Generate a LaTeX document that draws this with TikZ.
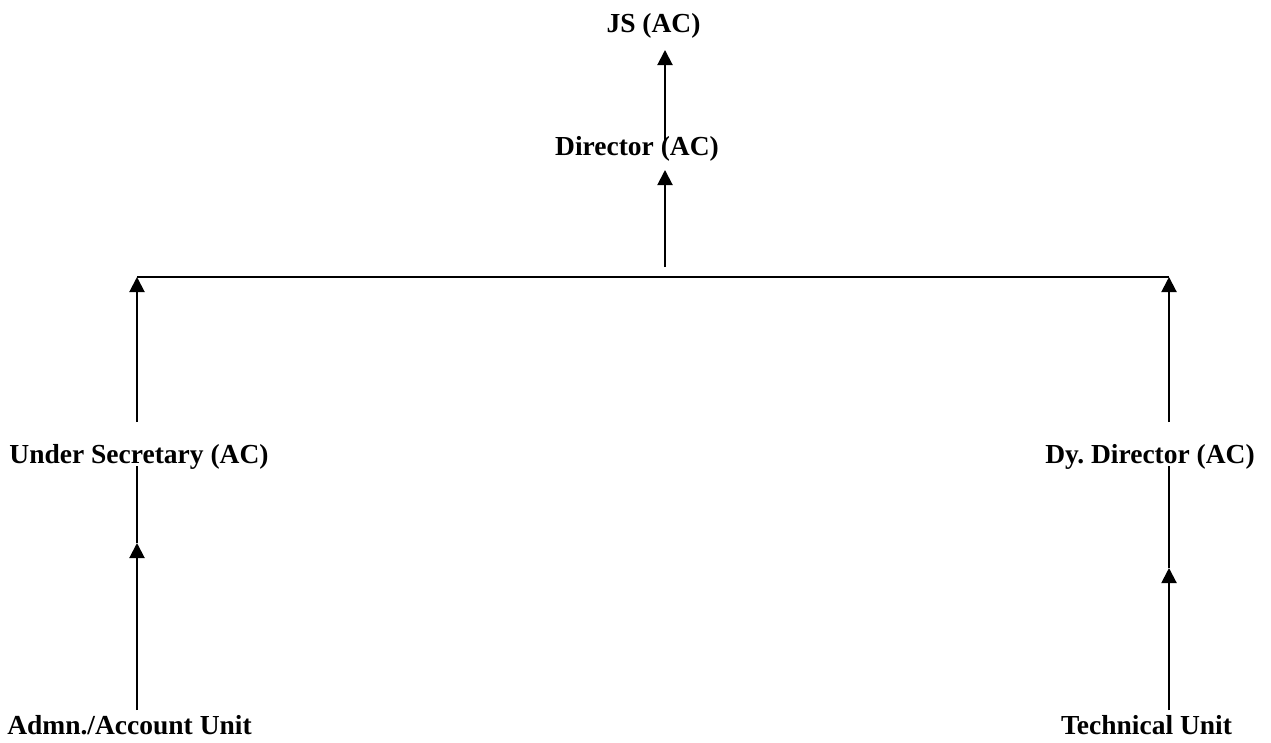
\documentclass[tikz,border=0pt]{standalone}
\usepackage{fontspec}
\setmainfont{Liberation Serif}
\usetikzlibrary{arrows.meta}
\frenchspacing
\begin{document}
\begin{tikzpicture}[x=1pt,y=-1pt,
  lbl/.style={inner sep=0pt,anchor=base,font=\fontsize{27.5}{33}\selectfont\bfseries},
  conn/.style={line width=2pt},
  arr/.style={conn,-{Triangle[width=15pt,length=15pt]}}]
\useasboundingbox[fill=white] (0,0) rectangle (1271,742);
% nodes
\node[lbl] (js)   at (653.5,32)  {JS (AC)};
\node[lbl] (dir)  at (637,155)   {Director (AC)};
\node[lbl] (us)   at (139,463)   {Under Secretary (AC)};
\node[lbl] (dy)   at (1150,463)  {Dy. Director (AC)};
\node[lbl] (adm)  at (129.5,734) {Admn./Account Unit};
\node[lbl] (tech) at (1146.5,734){Technical Unit};
% coordinates
\coordinate (jsin)  at (665,50);
\coordinate (dirup) at (665,140);
\coordinate (dirin) at (665,170);
\coordinate (busup) at (665,267);
\coordinate (busL)  at (137,277);
\coordinate (busR)  at (1169,277);
\coordinate (usup)  at (137,422);
\coordinate (dyup)  at (1169,422);
\coordinate (usdn)  at (137,466);
\coordinate (dydn)  at (1169,466);
\coordinate (admup) at (137,710);
\coordinate (techup) at (1169,710);
\coordinate (midL)  at (137,543);
\coordinate (midR)  at (1169,568);
% connectors
\draw[arr] (dirup) -- (jsin);
\draw[arr] (busup) -- (dirin);
\draw[conn] (busL) -- (busR);
\draw[arr] (usup) -- (busL);
\draw[arr] (dyup) -- (busR);
\draw[arr] (admup) -- (midL);
\draw[conn] (midL) -- (usdn);
\draw[arr] (techup) -- (midR);
\draw[conn] (midR) -- (dydn);
\end{tikzpicture}
\end{document}
